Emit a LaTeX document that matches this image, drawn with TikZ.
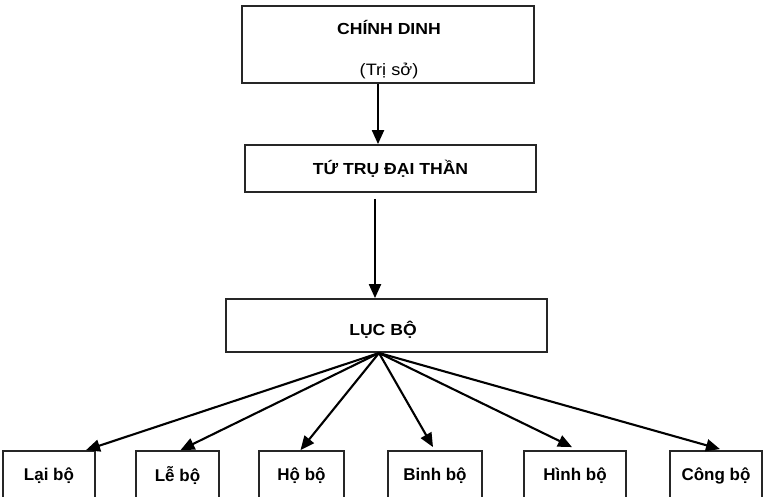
\documentclass[tikz,border=0pt]{standalone}
\usepackage{fontspec}
\setmainfont{Liberation Sans}
\newfontfamily\headfont[FakeStretch=1.1]{Liberation Sans}
\usetikzlibrary{arrows.meta,calc}

\tikzset{
  box/.style={draw=black!85, line width=1.8pt, rectangle, inner sep=0pt},
  headlbl/.style={font=\headfont\fontsize{16}{19}\selectfont\bfseries},
  sublbl/.style={font=\headfont\fontsize{16.5}{19}\selectfont},
  leaflbl/.style={font=\fontsize{17}{20}\selectfont\bfseries},
  arr/.style={line width=2.1pt, -{Triangle[length=14pt,width=12pt]}}
}

\begin{document}
\begin{tikzpicture}[x=1pt,y=-1pt]
  \useasboundingbox (0,0) rectangle (767,497);
  \clip (0,0) rectangle (767,497);

  % headquarters
  \node[box, minimum width=292pt, minimum height=77pt] (top) at (388,44.5) {};
  \node[headlbl] (topname) at (389,27) {CHÍNH DINH};
  \node[sublbl] (topsub) at (389,71) {(Trị sở)};

  % four pillars
  \node[box, minimum width=291pt, minimum height=47pt, headlbl] (tu) at (390.5,168.5) {TỨ TRỤ ĐẠI THẦN};

  % six ministries
  \node[box, minimum width=321pt, minimum height=53pt] (luc) at (386.5,325.5) {};
  \node[headlbl] (lucname) at (383,330) {LỤC BỘ};

  % the ministries themselves
  \node[box, minimum width=92pt,  minimum height=50pt, leaflbl] (lai)  at (49,476)    {Lại bộ};
  \node[box, minimum width=83pt,  minimum height=50pt, leaflbl] (le)   at (177.5,476) {Lễ bộ};
  \node[box, minimum width=85pt,  minimum height=50pt, leaflbl] (ho)   at (301.5,476) {Hộ bộ};
  \node[box, minimum width=94pt,  minimum height=50pt, leaflbl] (binh) at (435,476)   {Binh bộ};
  \node[box, minimum width=102pt, minimum height=50pt, leaflbl] (hinh) at (575,476)   {Hình bộ};
  \node[box, minimum width=92pt,  minimum height=50pt, leaflbl] (cong) at (716,476)   {Công bộ};

  % vertical chain
  \coordinate (c1) at (378,0);
  \coordinate (c2) at (375,0);
  \draw[arr] (top.south -| c1) -- (tu.north -| c1);
  \draw[arr] ($(tu.south -| c2)+(0,6)$) -- (luc.north -| c2);

  % fan out to the ministries
  \coordinate (fan) at (379,353);
  \draw[arr] (fan) -- ($(lai.north)+(37,0)$);
  \draw[arr] (fan) -- ($(le.north)+(3,0)$);
  \draw[arr] (fan) -- ($(ho.north)+(-1,0)$);
  \draw[arr] (fan) -- ($(binh.north)+(-2,-3)$);
  \draw[arr] (fan) -- ($(hinh.north)+(-3,-3)$);
  \draw[arr] (fan) -- ($(cong.north)+(4,-1)$);
\end{tikzpicture}
\end{document}
